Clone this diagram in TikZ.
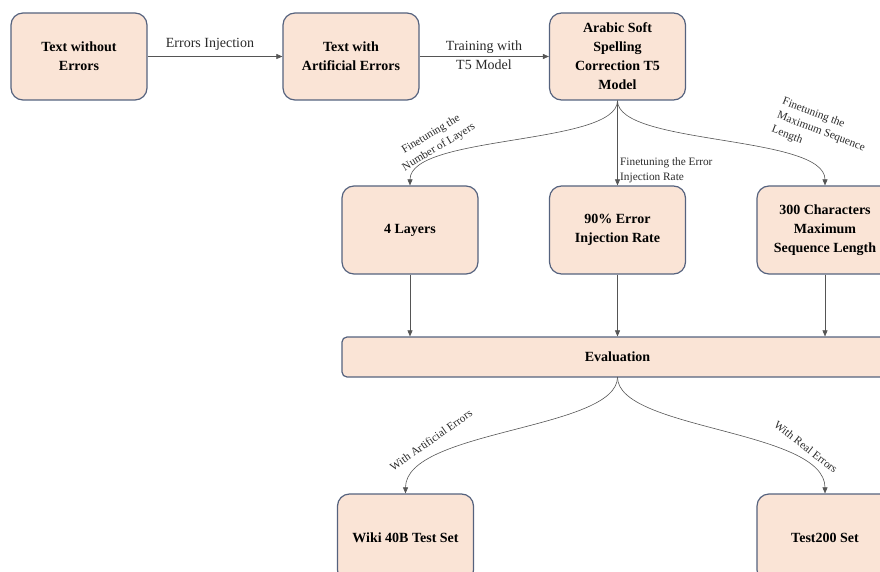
\documentclass[tikz,border=0pt]{standalone}
\usepackage{fontspec}
\setmainfont{Liberation Serif}[BoldFont={Liberation Serif Bold}]
\usetikzlibrary{arrows.meta}
\definecolor{boxfill}{HTML}{FAE4D6}
\definecolor{boxline}{HTML}{55627E}
\definecolor{linkc}{HTML}{555555}
\definecolor{labc}{HTML}{2A2A2A}
\begin{document}
\begin{tikzpicture}[x=1pt,y=-1pt,
  box/.style={draw=boxline, fill=boxfill, line width=1.2pt, rounded corners=12pt,
    minimum width=136pt, minimum height=87pt, align=center, inner sep=2pt,
    font=\fontsize{14}{19}\selectfont\bfseries},
  link/.style={draw=linkc, line width=0.6pt, -{Triangle[length=6pt,width=5pt]}},
  lab/.style={font=\fontsize{14}{19}\selectfont, align=center, inner sep=0pt, text=labc},
  small/.style={font=\fontsize{11.3}{15}\selectfont, inner sep=0pt, text=labc}]
\useasboundingbox (0,0) rectangle (880,572);

% top row
\node[box] (b1) at (79,56.5) {Text without\\Errors};
\node[box] (b2) at (351,56.5) {Text with\\Artificial Errors};
\node[box] (b3) at (617.5,56.5) {Arabic Soft\\Spelling\\Correction T5\\Model};

% second row
\node[box, minimum height=88pt] (r1) at (410,230) {4 Layers};
\node[box, minimum height=88pt] (r2) at (617.5,230) {90\% Error\\Injection Rate};
\node[box, minimum height=88pt] (r3) at (825,230) {300 Characters\\Maximum\\Sequence Length};

% evaluation
\node[box, rounded corners=5pt, minimum width=551pt, minimum height=40pt] (ev) at (617.5,357) {Evaluation};

% bottom row
\node[box, minimum height=88pt] (w1) at (405.5,538) {Wiki 40B Test Set};
\node[box, minimum height=88pt] (w2) at (825,538) {Test200 Set};

% connectors
\draw[link] (b1) -- (b2);
\draw[link] (b2) -- (b3);
\draw[link] (b3.south) .. controls +(0,45) and +(0,-51) .. (r1.north);
\draw[link] (b3.south) -- (r2.north);
\draw[link] (b3.south) .. controls +(0,45) and +(0,-51) .. (r3.north);
\draw[link] (r1.south) -- (r1.south |- ev.north);
\draw[link] (r2.south) -- (r2.south |- ev.north);
\draw[link] (r3.south) -- (r3.south |- ev.north);
\coordinate (evs) at (617.5,377);
\draw[link] (evs) .. controls +(0,53) and +(0,-64) .. (w1.north);
\draw[link] (evs) .. controls +(0,53) and +(0,-64) .. (w2.north);

% labels
\node[lab] (t1) at (210,44) {Errors Injection};
\node[lab] (t2) at (484,55) {Training with\\T5 Model};
\node[small, rotate=31, align=center] (l1) at (435,141) {Finetuning the\\Number of Layers};
\node[small, align=left, anchor=north west] (l2) at (620,157) {Finetuning the Error\\Injection Rate};
\node[small, rotate=-21, align=left] (l3) at (821,132) {Finetuning the\\Maximum Sequence\\Length};
\node[small, rotate=35] (l4) at (431,440) {With Artificial Errors};
\node[small, rotate=-38] (l5) at (806,447) {With Real Errors};
\end{tikzpicture}
\end{document}
